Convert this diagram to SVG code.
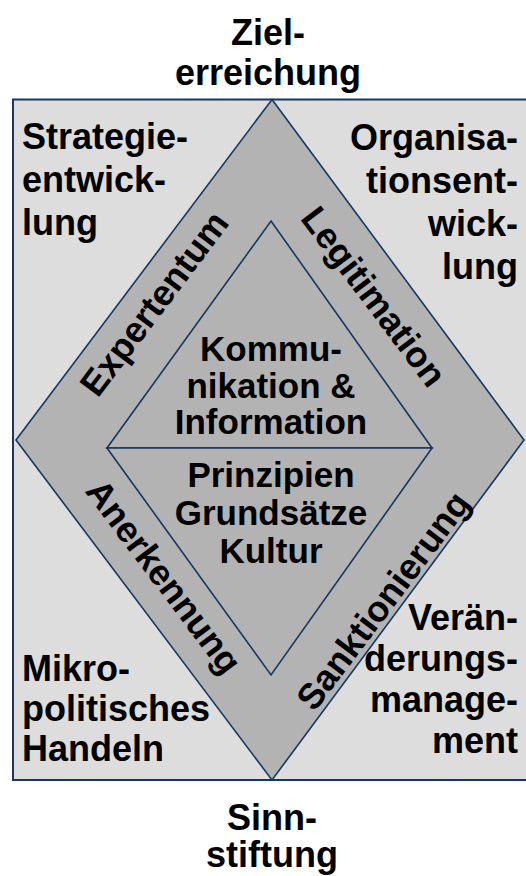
<svg xmlns="http://www.w3.org/2000/svg" width="526" height="876" viewBox="0 0 526 876">
<style>
  .t { font-family: "Liberation Sans", Arial, sans-serif; font-weight: bold; font-size: 36px; fill: #000; }
  .c { font-size: 35px; }
  .m { text-anchor: middle; }
  .e { text-anchor: end; }
  .shape { fill: #B3B3B3; stroke: #17375E; stroke-width: 1.6; stroke-linejoin: miter; }
</style>
<rect width="526" height="876" fill="#FFFFFF"/>
<g id="frame">
  <rect x="13" y="99.5" width="514" height="680.5" fill="#DDDDDD" stroke="#17375E" stroke-width="2"/>
</g>
<g id="diamond">
  <polygon class="shape" points="272,99.5 524,440 272,780 16,440"/>
</g>
<g id="inner-top">
  <polygon class="shape" points="271,221 432,448 107,448"/>
</g>
<g id="inner-bottom">
  <polygon class="shape" points="107,448 432,448 271,675"/>
</g>
<g id="label-top">
  <text class="t m" x="268" y="45">Ziel-</text>
  <text class="t m" x="268" y="85">erreichung</text>
</g>
<g id="label-bottom">
  <text class="t m" x="272" y="830">Sinn-</text>
  <text class="t m" x="272" y="867">stiftung</text>
</g>
<g id="corner-tl">
  <text class="t" x="22" y="149">Strategie-</text>
  <text class="t" x="22" y="192">entwick-</text>
  <text class="t" x="22" y="235">lung</text>
</g>
<g id="corner-tr">
  <text class="t e" x="518" y="150">Organisa-</text>
  <text class="t e" x="518" y="193">tionsent-</text>
  <text class="t e" x="518" y="236">wick-</text>
  <text class="t e" x="518" y="279">lung</text>
</g>
<g id="corner-bl">
  <text class="t" x="22" y="681">Mikro-</text>
  <text class="t" x="22" y="721">politisches</text>
  <text class="t" x="22" y="761">Handeln</text>
</g>
<g id="corner-br">
  <text class="t e" x="518" y="630">Verän-</text>
  <text class="t e" x="518" y="671">derungs-</text>
  <text class="t e" x="518" y="712">manage-</text>
  <text class="t e" x="518" y="753">ment</text>
</g>
<g id="center-top">
  <text class="t c m" x="271" y="361">Kommu-</text>
  <text class="t c m" x="271" y="398">nikation &amp;</text>
  <text class="t c m" x="271" y="434">Information</text>
</g>
<g id="center-bottom">
  <text class="t c m" x="271" y="487">Prinzipien</text>
  <text class="t c m" x="271" y="525">Grundsätze</text>
  <text class="t c m" x="271" y="563">Kultur</text>
</g>
<g id="side-expertentum">
  <text class="t m" transform="translate(164,311) rotate(-53)">Expertentum</text>
</g>
<g id="side-legitimation">
  <text class="t m" transform="translate(364,304) rotate(53)">Legitimation</text>
</g>
<g id="side-anerkennung">
  <text class="t m" transform="translate(154,584) rotate(53)">Anerkennung</text>
</g>
<g id="side-sanktionierung">
  <text class="t m" transform="translate(393,608) rotate(-53)">Sanktionierung</text>
</g>
</svg>
